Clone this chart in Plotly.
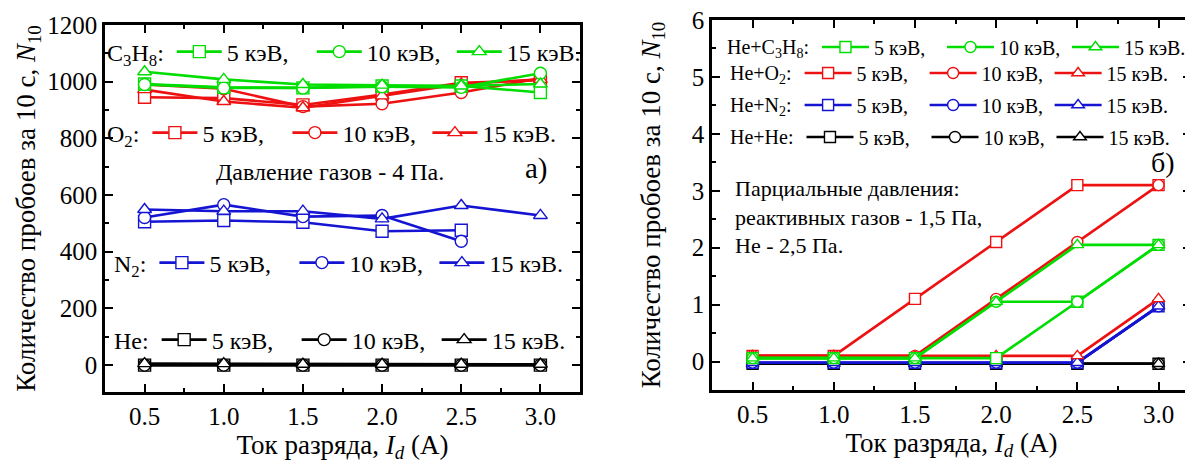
import plotly.graph_objects as go

# ---------------- data ----------------
current = [0.5, 1.0, 1.5, 2.0, 2.5, 3.0]
current_n2 = [0.5, 1.0, 1.5, 2.0, 2.5]

# left panel (a): total pressure 4 Pa
c3h8_5 = [992, 980, 978, 985, 985, 962]
c3h8_10 = [990, 978, 978, 982, 980, 1030]
c3h8_15 = [1035, 1008, 990, 988, 985, 992]
o2_5 = [945, 942, 918, 955, 996, 1005]
o2_10 = [990, 975, 912, 922, 962, 1012]
o2_15 = [972, 930, 908, 950, 992, 1008]
n2_5 = [506, 510, 504, 472, 476]
n2_10 = [521, 566, 524, 528, 437]
n2_15 = [549, 543, 543, 516, 563, 528]
he_5 = [0, 0, 0, 0, 0, 0]
he_10 = [0, 0, 0, 0, 0, 0]
he_15 = [5, 5, 3, 3, 3, 3]

# right panel (b): partial pressures
hec3h8_5 = [0.06, 0.06, 0.06, 0.06, 1.05, 2.05]
hec3h8_10 = [0.06, 0.06, 0.06, 1.05, 1.05, 2.05]
hec3h8_15 = [0.06, 0.06, 0.06, 1.05, 2.05, 2.05]
heo2_5 = [0.1, 0.1, 1.1, 2.1, 3.1, 3.1]
heo2_10 = [0.1, 0.1, 0.1, 1.1, 2.1, 3.1]
heo2_15 = [0.1, 0.1, 0.1, 0.1, 0.1, 1.1]
hen2_5 = [-0.02, -0.02, -0.02, -0.02, -0.02, 0.97]
hen2_10 = [-0.02, -0.02, -0.02, -0.02, -0.02, 0.97]
hen2_15 = [-0.02, -0.02, -0.02, -0.02, -0.02, 0.97]
hehe_5 = [-0.04, -0.04, -0.04, -0.04, -0.04, -0.04]
hehe_10 = [-0.04, -0.04, -0.04, -0.04, -0.04, -0.04]
hehe_15 = [-0.04, -0.04, -0.04, -0.04, -0.04, -0.04]

energy_labels = ["5 кэВ,", "10 кэВ,", "15 кэВ."]
symbols = ["square", "circle", "triangle-up"]

GREEN = "#00dd00"
RED = "#ee1111"
BLUE = "#1414d2"
BLACK = "#000000"
FONT = "Liberation Serif"

W, H = 1193, 461
OFF = 8  # page body offset


def PX(x):
    return (x - OFF) / W


def PY(y):
    return 1 - (y - OFF) / H


fig = go.Figure()


def add_group(xs_list, ys_list, color, legend, xa, ya, msize=12):
    for i, (xs, ys) in enumerate(zip(xs_list, ys_list)):
        fig.add_trace(go.Scatter(
            x=xs, y=ys, mode="lines+markers",
            name=energy_labels[i],
            line=dict(color=color, width=2.6),
            marker=dict(symbol=symbols[i], size=msize,
                        color="white", line=dict(color=color, width=1.4)),
            legend=legend, xaxis=xa, yaxis=ya, showlegend=True,
        ))


# left panel
add_group([current, current, current], [he_5, he_10, he_15], BLACK, "legend4", "x", "y")
add_group([current_n2, current_n2, current], [n2_5, n2_10, n2_15], BLUE, "legend3", "x", "y")
add_group([current, current, current], [o2_5, o2_10, o2_15], RED, "legend2", "x", "y")
add_group([current, current, current], [c3h8_5, c3h8_10, c3h8_15], GREEN, "legend", "x", "y")

# right panel
add_group([current] * 3, [hehe_5, hehe_10, hehe_15], BLACK, "legend8", "x2", "y2", 11)
add_group([current] * 3, [hen2_5, hen2_10, hen2_15], BLUE, "legend7", "x2", "y2", 11)
add_group([current] * 3, [heo2_5, heo2_10, heo2_15], RED, "legend6", "x2", "y2", 11)
add_group([current] * 3, [hec3h8_5, hec3h8_10, hec3h8_15], GREEN, "legend5", "x2", "y2", 11)


def leg(xpx, ypx, title, size, ew, iw):
    return dict(
        x=PX(xpx), y=PY(ypx), xanchor="left", yanchor="middle",
        orientation="h",
        title=dict(text=title, side="left", font=dict(family=FONT, size=size, color="black")),
        font=dict(family=FONT, size=size, color="black"),
        bgcolor="rgba(0,0,0,0)", borderwidth=0,
        entrywidth=ew, entrywidthmode="pixels", itemwidth=iw,
        tracegroupgap=0, itemclick=False, itemdoubleclick=False,
    )


TICKF = dict(family=FONT, size=25, color="black")
TITLEF = dict(family=FONT, size=27, color="black")

axis_common = dict(
    showline=True, linewidth=2.5, linecolor="black", mirror="allticks",
    ticks="inside", ticklen=8, tickwidth=2.2, tickcolor="black",
    showgrid=False, zeroline=False, automargin=False,
    ticklabeloverflow="allow",
    tickfont=TICKF,
)
minor_common = dict(ticks="inside", ticklen=4, tickwidth=2, tickcolor="black")

fig.update_layout(
    width=W, height=H,
    margin=dict(l=0, r=0, t=0, b=0, autoexpand=False),
    paper_bgcolor="white", plot_bgcolor="white",
    showlegend=True,
    xaxis=dict(**axis_common, domain=[PX(105), PX(580)], range=[0.25, 3.25],
               tick0=0.5, dtick=0.5, tickformat=".1f",
               minor=dict(**minor_common, tick0=0.25, dtick=0.25),
               title=dict(text="Ток разряда, <i>I<sub>d</sub></i> (А)", font=TITLEF, standoff=4),
               anchor="y"),
    yaxis=dict(**axis_common, domain=[PY(392), PY(25)], range=[-95, 1200],
               tick0=0, dtick=200,
               minor=dict(**minor_common, tick0=0, dtick=100),
               title=dict(text="Количество пробоев за 10 с, <i>N</i><sub>10</sub>", font=TITLEF, standoff=4),
               anchor="x"),
    xaxis2=dict(**axis_common, domain=[PX(712), PX(1191)], range=[0.25, 3.2],
                tick0=0.5, dtick=0.5, tickformat=".1f",
                minor=dict(**minor_common, tick0=0.25, dtick=0.25),
                title=dict(text="Ток разряда, <i>I<sub>d</sub></i> (А)", font=TITLEF, standoff=4),
                anchor="y2"),
    yaxis2=dict(**axis_common, domain=[PY(390), PY(20)], range=[-0.5, 6],
                tick0=0, dtick=1,
                minor=dict(**minor_common, tick0=0, dtick=0.5),
                title=dict(text="Количество пробоев за 10 с, <i>N</i><sub>10</sub>", font=TITLEF, standoff=24),
                anchor="x2"),
    legend=leg(105, 52, "C<sub>3</sub>H<sub>8</sub>:", 24, 80, 45),
    legend2=leg(105, 133, "O<sub>2</sub>:", 24, 80, 45),
    legend3=leg(112, 263, "N<sub>2</sub>:", 24, 80, 45),
    legend4=leg(112, 340, "He:", 24, 80, 45),
    legend5=leg(725, 47, "He+C<sub>3</sub>H<sub>8</sub>:", 20, 63, 47),
    legend6=leg(728, 73, "He+O<sub>2</sub>:", 20, 63, 47),
    legend7=leg(728, 105, "He+N<sub>2</sub>:", 20, 63, 47),
    legend8=leg(728, 137, "He+He:", 20, 63, 47),
    annotations=[
        dict(text="Давление газов - 4 Па.", x=PX(330), y=PY(172), xref="paper", yref="paper",
             xanchor="center", yanchor="middle",
             showarrow=False, font=dict(family=FONT, size=24, color="black")),
        dict(text="а)", x=PX(536), y=PY(168), xref="paper", yref="paper",
             xanchor="center", yanchor="middle",
             showarrow=False, font=dict(family=FONT, size=29, color="black")),
        dict(text="б)", x=PX(1163), y=PY(162), xref="paper", yref="paper",
             xanchor="center", yanchor="middle",
             showarrow=False, font=dict(family=FONT, size=28, color="black")),
        dict(text="Парциальные давления:<br>реактивных газов - 1,5 Па,<br>Не - 2,5 Па.",
             x=PX(733), y=PY(174), xref="paper", yref="paper", xanchor="left", yanchor="top",
             align="left", showarrow=False, font=dict(family=FONT, size=22, color="black")),
    ],
)

fig.write_html("out.html")
